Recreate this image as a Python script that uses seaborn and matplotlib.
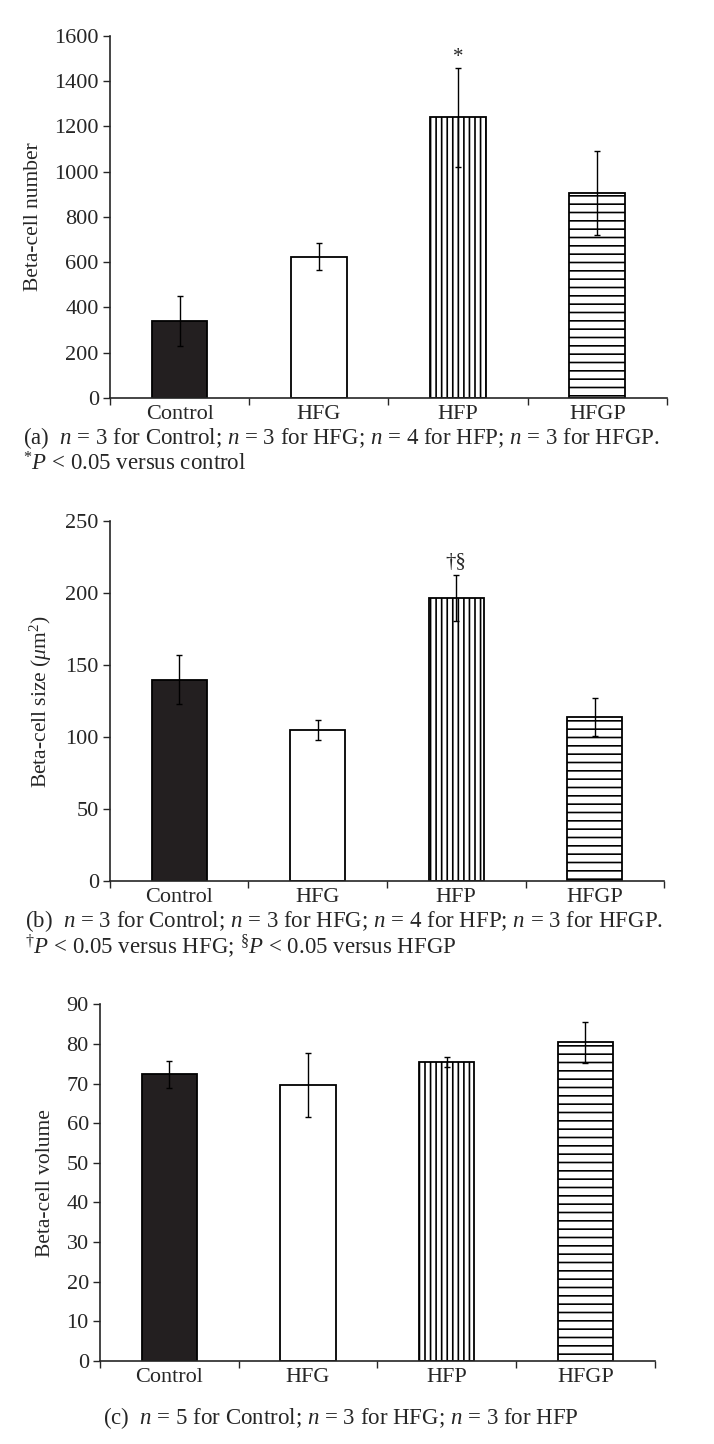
import numpy as np
import matplotlib
matplotlib.use('Agg')
import matplotlib.pyplot as plt
import seaborn as sns

# Data (mean and error bar half-length)
groups = ['Control', 'HFG', 'HFP', 'HFGP']
number_mean = [340, 625, 1240, 905]
number_err = [110, 58, 220, 185]
size_mean = [140, 105, 197, 114]
size_err = [17, 7, 16, 13]
volume_mean = [72.3, 69.7, 75.4, 80.4]
volume_err = [3.5, 8.1, 1.2, 5.2]

bar_colors = ['#231f20', 'white', 'white', 'white']
bar_hatches = ['', '', '|||', '--']

sns.set_theme(style='ticks')
plt.rcParams['font.family'] = ['Liberation Serif', 'DejaVu Serif']
plt.rcParams['mathtext.fontset'] = 'custom'
plt.rcParams['mathtext.rm'] = 'Liberation Serif'
plt.rcParams['mathtext.it'] = 'Liberation Serif:italic'
plt.rcParams['hatch.linewidth'] = 1.2
plt.rcParams['hatch.color'] = 'black'

TICK_FS = 16
LABEL_FS = 15.5
CAP_FS = 16.5


def draw_panel(ax, means, errs, ymax, step, ylabel, mark=None, mark_y=None):
    sns.barplot(x=groups, y=means, hue=groups, palette=bar_colors, legend=False,
                width=0.4, edgecolor='black', linewidth=1.3, saturation=1, ax=ax)
    for patch, h in zip(ax.patches, bar_hatches):
        patch.set_hatch(h)
    ax.errorbar(range(len(groups)), means, yerr=errs, fmt='none', ecolor='black',
                elinewidth=1, capsize=2, capthick=1)
    ax.set_ylim(0, ymax)
    ax.set_yticks(np.arange(0, ymax + step / 2, step))
    ax.set_xlim(-0.5, len(groups) - 0.5)
    ax.set_xticks(range(len(groups)))
    ax.set_xticks(np.arange(-0.5, len(groups)), minor=True)
    ax.tick_params(axis='x', which='major', length=0, labelsize=TICK_FS, pad=5)
    ax.tick_params(axis='x', which='minor', length=5, width=1, direction='out')
    ax.tick_params(axis='y', length=5, width=1, labelsize=TICK_FS, pad=3)
    ax.set_ylabel(ylabel, fontsize=LABEL_FS, labelpad=8)
    ax.set_xlabel('')
    sns.despine(ax=ax)
    for s in ['left', 'bottom']:
        ax.spines[s].set_linewidth(1.2)
    if mark:
        ax.text(2, mark_y, mark, ha='center', va='bottom', fontsize=15)


fig = plt.figure(figsize=(7.14, 14.44), dpi=100)

ax_a = fig.add_axes([0.154, 0.7244, 0.780, 0.2507])
draw_panel(ax_a, number_mean, number_err, 1600, 200, 'Beta-cell number',
           mark='*', mark_y=1465)

ax_b = fig.add_axes([0.154, 0.3899, 0.776, 0.249])
draw_panel(ax_b, size_mean, size_err, 250, 50, r'Beta-cell size ($\mu$m$^{2}$)',
           mark='†§', mark_y=215)

ax_c = fig.add_axes([0.140, 0.0575, 0.777, 0.247])
draw_panel(ax_c, volume_mean, volume_err, 90, 10, 'Beta-cell volume')

fig.text(0.032, 1 - 438 / 1444, r'(a)  $n$ = 3 for Control; $n$ = 3 for HFG; $n$ = 4 for HFP; $n$ = 3 for HFGP.',
         fontsize=CAP_FS, va='center')
fig.text(0.032, 1 - 464 / 1444, r'$^{*}$$P$ < 0.05 versus control', fontsize=CAP_FS, va='center')
fig.text(0.035, 1 - 921 / 1444, r'(b)  $n$ = 3 for Control; $n$ = 3 for HFG; $n$ = 4 for HFP; $n$ = 3 for HFGP.',
         fontsize=CAP_FS, va='center')
fig.text(0.035, 1 - 947 / 1444, r'$^{\dagger}$$P$ < 0.05 versus HFG; $^{\S}$$P$ < 0.05 versus HFGP',
         fontsize=CAP_FS, va='center')
fig.text(0.477, 1 - 1418 / 1444, r'(c)  $n$ = 5 for Control; $n$ = 3 for HFG; $n$ = 3 for HFP',
         fontsize=CAP_FS, va='center', ha='center')

fig.savefig('out.png', dpi=100, facecolor='white')
